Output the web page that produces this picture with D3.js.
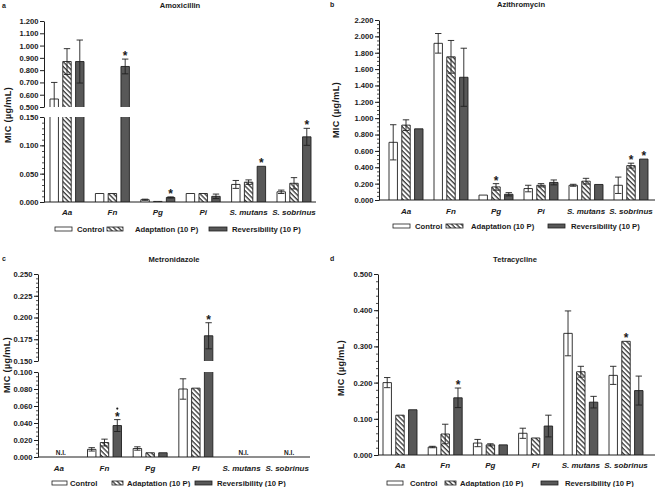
<!DOCTYPE html>
<html><head><meta charset="utf-8">
<script src="https://cdn.jsdelivr.net/npm/d3@7"></script>
<style>
body{margin:0;background:#fff}
svg{display:block}
text{font-family:"Liberation Sans",Arial,sans-serif;font-weight:bold;fill:#1a1a1a}
</style>
</head><body>
<svg id="chart" width="656" height="487"></svg>
<script>
// ---------- DATA ----------
const categories = ["Aa", "Fn", "Pg", "Pi", "S. mutans", "S. sobrinus"];
const seriesNames = ["Control", "Adaptation (10 P)", "Reversibility (10 P)"];
const yLabel = "MIC (µg/mL)";

// a: Amoxicillin
const amoxControl    = [0.565, 0.015, 0.004, 0.015, 0.031, 0.018];
const amoxControlErr = [0.135, 0,     0.001, 0,     0.007, 0.003];
const amoxAdapt      = [0.870, 0.015, 0.001, 0.015, 0.035, 0.033];
const amoxAdaptErr   = [0.105, 0,     0,     0,     0.004, 0.010];
const amoxRev        = [0.870, 0.830, 0.008, 0.010, 0.063, 0.115];
const amoxRevErr     = [0.175, 0.060, 0.001, 0.004, 0,     0.015];
const amoxStars      = [[0,0,0,0,0,0],[0,0,0,0,0,0],[0,1,1,0,1,1]];
const amoxTicksUpper = [0.5, 0.6, 0.7, 0.8, 0.9, 1.0, 1.1, 1.2];
const amoxTicksLower = [0, 0.05, 0.10, 0.15];

// b: Azithromycin
const aziControl    = [0.705, 1.915, 0.060, 0.140, 0.180, 0.180];
const aziControlErr = [0.215, 0.120, 0,     0.040, 0.012, 0.100];
const aziAdapt      = [0.915, 1.750, 0.160, 0.180, 0.230, 0.420];
const aziAdaptErr   = [0.065, 0.200, 0.040, 0.020, 0.035, 0.030];
const aziRev        = [0.870, 1.500, 0.070, 0.215, 0.190, 0.500];
const aziRevErr     = [0,     0.355, 0.020, 0.030, 0,     0];
const aziStars      = [[0,0,0,0,0,0],[0,0,1,0,0,1],[0,0,0,0,0,1]];
const aziTicks      = [0, 0.2, 0.4, 0.6, 0.8, 1.0, 1.2, 1.4, 1.6, 1.8, 2.0, 2.2];

// c: Metronidazole (null = N.I.)
const metroControl    = [null, 0.009, 0.010, 0.080, null, null];
const metroControlErr = [0,    0.002, 0.002, 0.012, 0,    0];
const metroAdapt      = [null, 0.017, 0.005, 0.081, null, null];
const metroAdaptErr   = [0,    0.004, 0,     0,     0,    0];
const metroRev        = [null, 0.037, 0.005, 0.179, null, null];
const metroRevErr     = [0,    0.007, 0,     0.015, 0,    0];
const metroStars      = [[0,0,0,0,0,0],[0,0,0,0,0,0],[0,2,0,1,0,0]];
const metroTicksUpper = [0.150, 0.175, 0.200, 0.225, 0.250];
const metroTicksLower = [0, 0.02, 0.04, 0.06, 0.08, 0.10];

// d: Tetracycline
const tetraControl    = [0.200, 0.022, 0.033, 0.060, 0.336, 0.220];
const tetraControlErr = [0.014, 0.002, 0.010, 0.014, 0.062, 0.025];
const tetraAdapt      = [0.110, 0.058, 0.028, 0.047, 0.230, 0.314];
const tetraAdaptErr   = [0,     0.027, 0.003, 0,     0.015, 0];
const tetraRev        = [0.125, 0.158, 0.028, 0.080, 0.146, 0.178];
const tetraRevErr     = [0,     0.027, 0,     0.030, 0.016, 0.040];
const tetraStars      = [[0,0,0,0,0,0],[0,0,0,0,0,1],[0,1,0,0,0,0]];
const tetraTicks      = [0, 0.1, 0.2, 0.3, 0.4, 0.5];

// ---------- LAYOUT ----------
const panels = [
  { letter: "a", title: "Amoxicillin", means: [amoxControl, amoxAdapt, amoxRev],
    errs: [amoxControlErr, amoxAdaptErr, amoxRevErr], stars: amoxStars,
    axisX: 44, xEnd: 316, band: [44.3, 316.7], letterPos: [2, 8], titlePos: [180, 8],
    yLabelPos: [11, 115], catY: 215,
    segs: [
      { domain: [0.5, 1.2], range: [107, 21], ticks: amoxTicksUpper, minor: 0 },
      { domain: [0, 0.15], range: [202, 117], ticks: amoxTicksLower, minor: 0.01 }
    ],
    legend: { y: 229, items: [[55, 17, 77], [107, 16, 135], [209, 18, 232]] } },
  { letter: "b", title: "Azithromycin", means: [aziControl, aziAdapt, aziRev],
    errs: [aziControlErr, aziAdaptErr, aziRevErr], stars: aziStars,
    axisX: 379, xEnd: 655, band: [383.5, 653.5], letterPos: [330, 7], titlePos: [521, 7],
    yLabelPos: [339, 110], catY: 214,
    segs: [
      { domain: [0, 2.2], range: [200, 20], ticks: aziTicks, minor: 0.05 }
    ],
    legend: { y: 226, items: [[393, 17, 415], [446, 17, 471], [548, 17, 571]] } },
  { letter: "c", title: "Metronidazole", means: [metroControl, metroAdapt, metroRev],
    errs: [metroControlErr, metroAdaptErr, metroRevErr], stars: metroStars,
    axisX: 38, xEnd: 310, band: [36, 310], letterPos: [2, 261], titlePos: [174, 262],
    yLabelPos: [10, 365], catY: 471,
    segs: [
      { domain: [0.15, 0.25], range: [361, 274], ticks: metroTicksUpper, minor: 0.005 },
      { domain: [0, 0.1], range: [457, 372], ticks: metroTicksLower, minor: 0.005 }
    ],
    legend: { y: 483, items: [[52, 15, 70], [112, 11, 127], [195, 17, 217]] } },
  { letter: "d", title: "Tetracycline", means: [tetraControl, tetraAdapt, tetraRev],
    errs: [tetraControlErr, tetraAdaptErr, tetraRevErr], stars: tetraStars,
    axisX: 378, xEnd: 655, band: [377.4, 648.6], letterPos: [330, 261], titlePos: [515, 262],
    yLabelPos: [344, 368], catY: 468,
    segs: [
      { domain: [0, 0.5], range: [455, 274], ticks: tetraTicks, minor: 0.02 }
    ],
    legend: { y: 483, items: [[387, 16, 410], [445, 11, 460], [541, 17, 565]] } }
];

const INK = "#1f1f1f";
const DARK = "#585858";
const svg = d3.select("#chart");

// hatch pattern
const defs = svg.append("defs");
const pat = defs.append("pattern").attr("id", "hatch")
  .attr("patternUnits", "userSpaceOnUse").attr("width", 3.4).attr("height", 3.4)
  .attr("patternTransform", "rotate(-45)");
pat.append("rect").attr("width", 3.4).attr("height", 3.4).attr("fill", "#fff");
pat.append("line").attr("x1", 1).attr("y1", 0).attr("x2", 1).attr("y2", 3.4)
  .attr("stroke", "#222").attr("stroke-width", 1.2);

const fills = ["#ffffff", "url(#hatch)", DARK];
const fmt = d3.format(".3f");

function drawPanel(p) {
  const g = svg.append("g");
  const x0 = d3.scaleBand().domain(categories).range(p.band).padding(0);
  const x1 = d3.scaleBand().domain(d3.range(seriesNames.length)).range([-17, 17]).paddingInner(0.34);
  p.segs.forEach(s => { s.scale = d3.scaleLinear().domain(s.domain).range(s.range); });
  const baseY = p.segs[p.segs.length - 1].range[0];

  // y axes (each segment)
  p.segs.forEach(s => {
    if (s.minor) {
      const minorVals = d3.range(s.domain[0], s.domain[1] + 1e-9, s.minor);
      g.append("g").attr("transform", `translate(${p.axisX},0)`)
        .call(d3.axisLeft(s.scale).tickValues(minorVals).tickSize(2).tickSizeOuter(0).tickFormat(""))
        .call(a => a.selectAll("line").attr("stroke", INK).attr("stroke-width", 0.8))
        .call(a => a.select(".domain").remove());
    }
    g.append("g").attr("transform", `translate(${p.axisX},0)`)
      .call(d3.axisLeft(s.scale).tickValues(s.ticks).tickSize(4).tickSizeOuter(0).tickPadding(1.5).tickFormat(fmt))
      .call(a => a.select(".domain").attr("stroke", INK).attr("stroke-width", 1))
      .call(a => a.selectAll("line").attr("stroke", INK).attr("stroke-width", 1))
      .call(a => a.selectAll("text").attr("font-size", 7.6).attr("font-family", '"Liberation Sans",Arial,sans-serif')
        .attr("font-weight", "bold").attr("fill", "#1a1a1a"));
  });

  // bars
  seriesNames.forEach((sn, si) => {
    categories.forEach((c, ci) => {
      const v = p.means[si][ci];
      if (v == null) return;
      const bx = x0(c) + x0.bandwidth() / 2 + x1(si);
      const bw = x1.bandwidth();
      p.segs.forEach(s => {
        if (v <= s.domain[0]) return;
        const top = Math.min(v, s.domain[1]);
        const yT = s.scale(top), yB = s.scale(s.domain[0]);
        g.append("rect").attr("x", bx).attr("y", yT).attr("width", bw).attr("height", Math.max(0, yB - yT))
          .attr("fill", fills[si]);
        let d = `M${bx},${yB}V${yT}`;
        if (v <= s.domain[1]) d += `H${bx + bw}`; else d += `M${bx + bw},${yT}`;
        d += `V${yB}`;
        g.append("path").attr("d", d).attr("fill", "none").attr("stroke", INK).attr("stroke-width", 0.9);
      });
      // error bars
      const e = p.errs[si][ci];
      const cx = bx + bw / 2;
      if (e > 0) {
        const lo = v - e, hi = v + e;
        p.segs.forEach(s => {
          const a = Math.max(lo, s.domain[0]), b = Math.min(hi, s.domain[1]);
          if (b <= a) return;
          g.append("line").attr("x1", cx).attr("x2", cx).attr("y1", s.scale(a)).attr("y2", s.scale(b))
            .attr("stroke", INK).attr("stroke-width", 0.9);
          [lo, hi].forEach(t => {
            if (t >= s.domain[0] && t <= s.domain[1]) {
              g.append("line").attr("x1", cx - 3.2).attr("x2", cx + 3.2).attr("y1", s.scale(t)).attr("y2", s.scale(t))
                .attr("stroke", INK).attr("stroke-width", 0.9);
            }
          });
        });
      }
      // stars
      const st = p.stars[si][ci];
      if (st) {
        const topV = v + e;
        const seg = p.segs.find(s => topV >= s.domain[0] && topV <= s.domain[1]) || p.segs[0];
        const yy = seg.scale(topV);
        g.append("text").attr("x", cx).attr("y", yy + 1).attr("text-anchor", "middle")
          .attr("font-size", 12).text("*");
        if (st > 1) {
          g.append("circle").attr("cx", cx).attr("cy", yy - 11).attr("r", 1.1).attr("fill", "#1a1a1a");
        }
      }
    });
  });
  // N.I. labels
  categories.forEach((c, ci) => {
    if (p.means.every(m => m[ci] == null)) {
      g.append("text").attr("x", x0(c) + x0.bandwidth() / 2 + 2).attr("y", baseY - 2.5)
        .attr("text-anchor", "middle").attr("font-size", 6.5).text("N.I.");
    }
  });

  // x axis line
  g.append("line").attr("x1", p.axisX).attr("x2", p.xEnd).attr("y1", baseY).attr("y2", baseY)
    .attr("stroke", INK).attr("stroke-width", 1);
  // category labels
  categories.forEach(c => {
    g.append("text").attr("x", x0(c) + x0.bandwidth() / 2).attr("y", p.catY)
      .attr("text-anchor", "middle").attr("font-size", 8).attr("font-style", "italic").text(c);
  });

  // title, letter, y label
  g.append("text").attr("x", p.titlePos[0]).attr("y", p.titlePos[1]).attr("text-anchor", "middle")
    .attr("font-size", 7.6).text(p.title);
  g.append("text").attr("x", p.letterPos[0]).attr("y", p.letterPos[1]).attr("font-size", 7).text(p.letter);
  g.append("text").attr("transform", `translate(${p.yLabelPos[0]},${p.yLabelPos[1]}) rotate(-90)`)
    .attr("text-anchor", "middle").attr("font-size", 9).attr("letter-spacing", 0.4).text(yLabel);

  // legend
  seriesNames.forEach((sn, si) => {
    const [sx, sw, tx] = p.legend.items[si];
    g.append("rect").attr("x", sx).attr("y", p.legend.y - 2).attr("width", sw).attr("height", 4)
      .attr("fill", fills[si]).attr("stroke", INK).attr("stroke-width", 0.8);
    g.append("text").attr("x", tx).attr("y", p.legend.y + 3).attr("font-size", 7.7).text(sn);
  });
}

panels.forEach(drawPanel);
</script>
</body></html>
